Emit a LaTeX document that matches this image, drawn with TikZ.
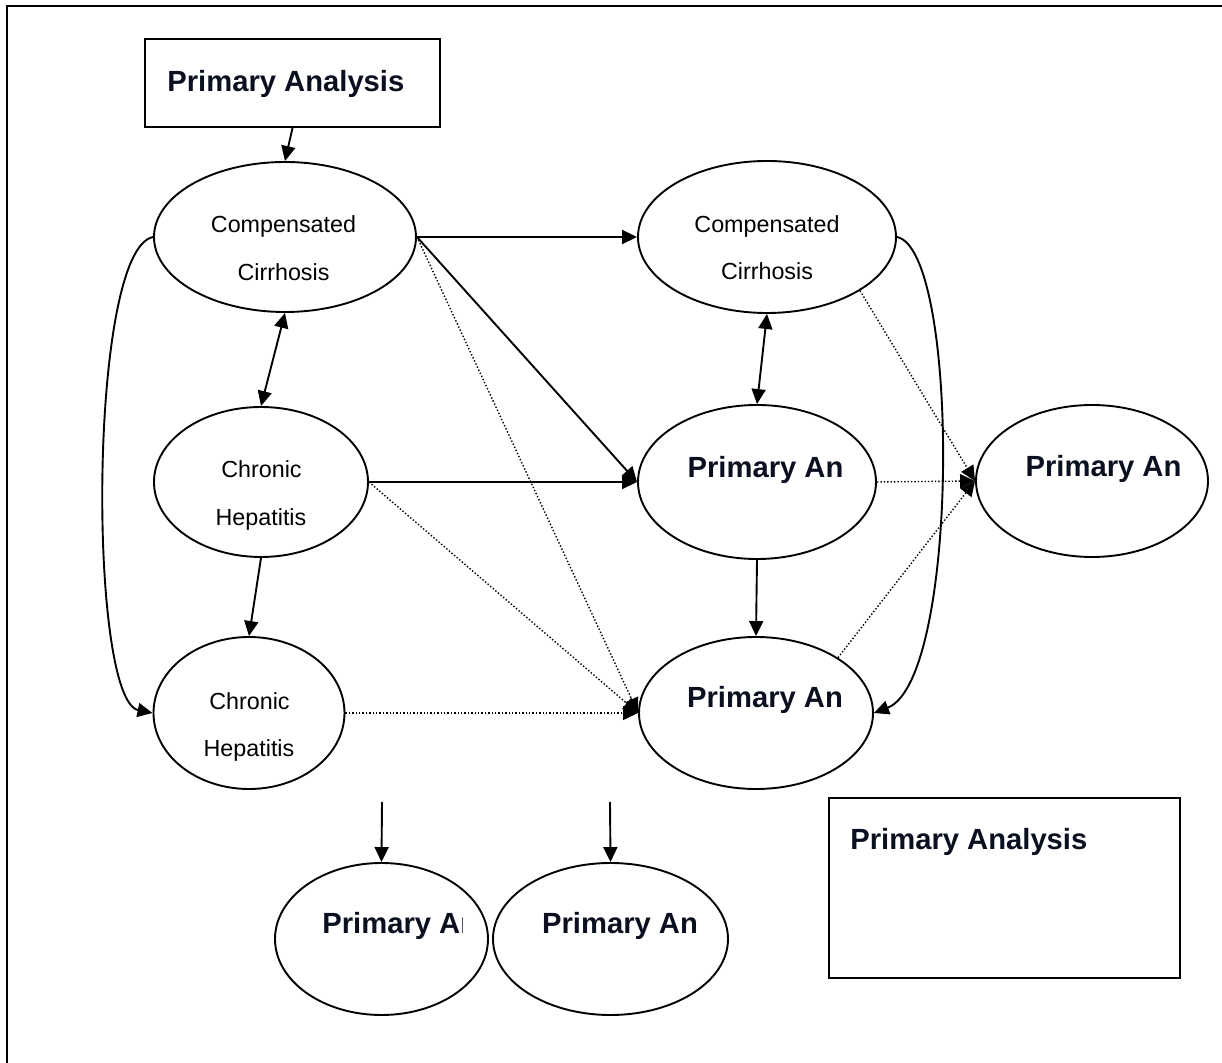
\documentclass[tikz,border=0pt]{standalone}
\usepackage{fontspec}
\setmainfont{Liberation Sans}
\usetikzlibrary{shapes.geometric,arrows.meta}
\definecolor{navytext}{HTML}{0B1020}
\begin{document}
\begin{tikzpicture}[x=0.5pt,y=-0.5pt,
  oval/.style={draw=black,line width=0.95pt,ellipse,inner sep=0pt,fill=white},
  boxnode/.style={draw=black,line width=1pt,rectangle,inner sep=0pt,fill=white},
  small/.style={font=\fontsize{11.65}{14}\selectfont,text=black,inner sep=0pt},
  big/.style={font=\fontsize{14.6}{17}\selectfont\bfseries,text=navytext,inner sep=0pt},
  conn/.style={line width=0.95pt,-{Triangle[length=7.5pt,width=7pt]}},
  dconn/.style={line width=0.7pt,dash pattern=on 0.7pt off 1pt,-{Triangle[length=7.5pt,width=7pt]}},
  both/.style={line width=0.95pt,{Triangle[length=7.5pt,width=7pt]}-{Triangle[length=7.5pt,width=7pt]}}]
\useasboundingbox (0,0) rectangle (1222,1063);
\fill[white] (0,0) rectangle (1222,1063);
% outer frame (only top and left edges visible)
\draw[line width=1.2pt] (1222,6) -- (7,6) -- (7,1063);

% boxes
\node[boxnode,minimum width=147.5pt,minimum height=44pt] (topbox) at (292.5,83) {};
\node[big,anchor=base west] (topboxtext) at (167,92) {Primary Analysis};
\node[boxnode,minimum width=175.5pt,minimum height=90pt] (botbox) at (1004.5,888) {};
\node[big,anchor=base west] (botboxtext) at (850,850) {Primary Analysis};

% ellipses
\node[oval,minimum width=131pt,minimum height=75pt] (A) at (285,237) {};
\node[oval,minimum width=107pt,minimum height=75pt] (B) at (261,482) {};
\node[oval,minimum width=95.5pt,minimum height=76pt] (C) at (249,713) {};
\node[oval,minimum width=129pt,minimum height=76pt] (D) at (767,237) {};
\node[oval,minimum width=119pt,minimum height=77pt] (E) at (757,482) {};
\node[oval,minimum width=117pt,minimum height=76pt] (F) at (756,713) {};
\node[oval,minimum width=116pt,minimum height=76pt] (G) at (1092,481) {};
\node[oval,minimum width=106.5pt,minimum height=76pt] (H) at (381.5,939) {};
\node[oval,minimum width=117.5pt,minimum height=76pt] (I) at (610.5,939) {};

% texts
\node[small,anchor=base] (A1) at (283.5,233) {Compensated};
\node[small,anchor=base] (A2) at (283.5,281) {Cirrhosis};
\node[small,anchor=base] (B1) at (261.5,478) {Chronic};
\node[small,anchor=base] (B2) at (261,526) {Hepatitis};
\node[small,anchor=base] (C1) at (249.5,710) {Chronic};
\node[small,anchor=base] (C2) at (249,757) {Hepatitis};
\node[small,anchor=base] (D1) at (767,233) {Compensated};
\node[small,anchor=base] (D2) at (767,280) {Cirrhosis};
\node[big,anchor=base] (E1) at (765.5,478) {Primary An};
\node[big,anchor=base] (F1) at (765,708) {Primary An};
\node[big,anchor=base] (G1) at (1103.5,477) {Primary An};
\begin{scope}
  \clip (300,880) rectangle (462,970);
  \node[big,anchor=base west] (H1) at (322,934) {Primary An};
\end{scope}
\node[big,anchor=base] (I1) at (620,934) {Primary An};

% free start points
\coordinate (h0) at (382,802);
\coordinate (i0) at (610,802);

% connectors
\draw[conn] (topbox.south) -- (A.north);
\draw[both] (A.south) -- (B.north);
\draw[conn] (B.south) -- (C.north);
\draw[conn] (A.west) .. controls (88,250) and (88,700) .. (C.west);
\draw[conn] (A.east) -- (D.west);
\draw[conn] (A.east) -- (E.west);
\draw[dconn] (A.east) -- (F.west);
\draw[conn] (B.east) -- (E.west);
\draw[dconn] (B.east) -- (F.west);
\draw[dconn] (C.east) -- (F.west);
\draw[both] (D.south) -- (E.north);
\draw[conn] (E.south) -- (F.north);
\draw[conn] (D.east) .. controls (960,250) and (960,680) .. (F.east);
\draw[dconn] (D.-30) -- (G.west);
\draw[dconn] (E.east) -- (G.west);
\draw[dconn] (F.34) -- (G.west);
\draw[conn] (h0) -- (H.north);
\draw[conn] (i0) -- (I.north);
\end{tikzpicture}
\end{document}
